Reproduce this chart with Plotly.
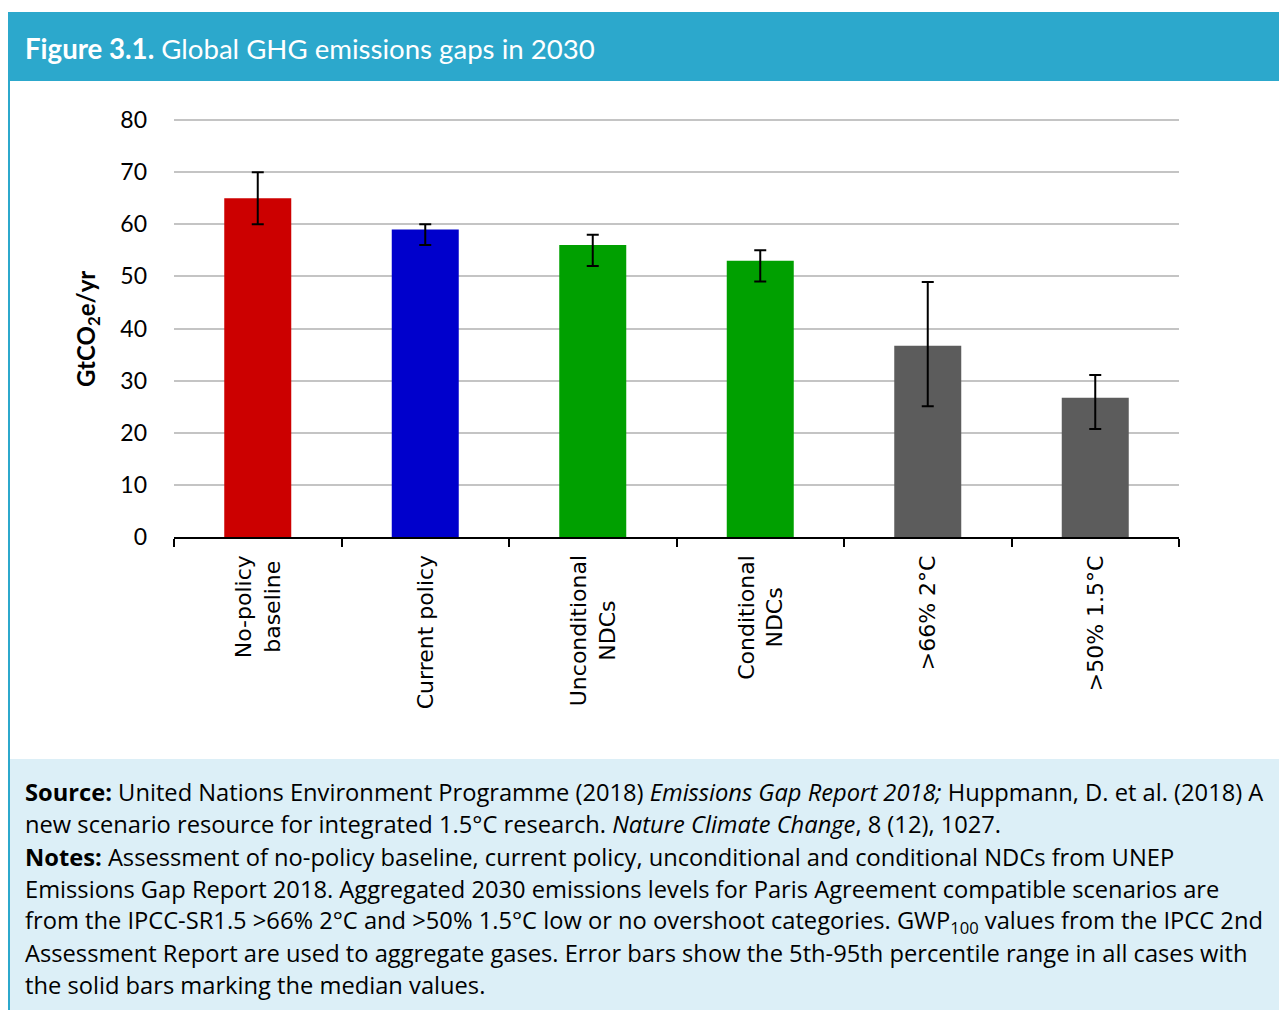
import plotly.graph_objects as go

# Chart data (GtCO2e/yr in 2030)
categories = [
    "No-policy<br>baseline",
    "Current policy",
    "Unconditional<br>NDCs",
    "Conditional<br>NDCs",
    ">66% 2°C",
    ">50% 1.5°C",
]
medians = [65, 59, 56, 53, 36.7, 26.7]
p95 = [70, 60, 58, 55, 48.9, 31.1]
p5 = [60, 56, 52, 49, 25.1, 20.7]
bar_colors = ["#CC0000", "#0000CC", "#00A000", "#00A000", "#5C5C5C", "#5C5C5C"]
y_ticks = [0, 10, 20, 30, 40, 50, 60, 70, 80]

title_bold = "Figure 3.1."
title_rest = "Global GHG emissions gaps in 2030"
note_lines = [
    "<b>Source:</b> United Nations Environment Programme (2018) <i>Emissions Gap Report 2018;</i> "
    "Huppmann, D. et al. (2018) A",
    "new scenario resource for integrated 1.5°C research. <i>Nature Climate Change</i>, 8 (12), 1027.",
    "<b>Notes:</b> Assessment of no-policy baseline, current policy, unconditional and conditional "
    "NDCs from UNEP",
    "Emissions Gap Report 2018. Aggregated 2030 emissions levels for Paris Agreement compatible "
    "scenarios are",
    "from the IPCC-SR1.5 >66% 2°C and >50% 1.5°C low or no overshoot categories. "
    "GWP<sub>100</sub> values from the IPCC 2nd",
    "Assessment Report are used to aggregate gases. Error bars show the 5th-95th percentile range "
    "in all cases with",
    "the solid bars marking the median values.",
]

W, H = 1287, 1010
OFF = 8  # page body margin in the browser
FONT = "Lato"
TEXT_FONT = "Open Sans"
HEADER_BLUE = "#2CA8CC"
NOTE_BG = "#DCEFF7"


def py(px):
    # screen pixel row -> paper y
    return 1 - (px - OFF) / H


def px_x(px):
    return (px - OFF) / W


err_plus = [hi - m for hi, m in zip(p95, medians)]
err_minus = [m - lo for lo, m in zip(p5, medians)]

fig = go.Figure()
fig.add_trace(
    go.Bar(
        x=categories,
        y=medians,
        marker=dict(color=bar_colors, line=dict(width=0)),
        width=0.4,
        error_y=dict(
            type="data",
            symmetric=False,
            array=err_plus,
            arrayminus=err_minus,
            color="black",
            thickness=2,
            width=6,
        ),
        showlegend=False,
    )
)

shapes = [
    # header band
    dict(type="rect", xref="paper", yref="paper", x0=px_x(8), x1=1.01, y0=py(81), y1=py(12),
         fillcolor=HEADER_BLUE, line=dict(width=0), layer="below"),
    # notes box
    dict(type="rect", xref="paper", yref="paper", x0=px_x(9), x1=1.01, y0=-0.01, y1=py(759),
         fillcolor=NOTE_BG, line=dict(width=0), layer="below"),
    # left border
    dict(type="line", xref="paper", yref="paper", x0=px_x(9), x1=px_x(9), y0=-0.01, y1=py(12),
         line=dict(color=HEADER_BLUE, width=2)),
]

annotations = [
    dict(text=f"<b>{title_bold}</b> {title_rest}", xref="paper", yref="paper",
         x=px_x(23), y=py(48), xanchor="left", yanchor="middle", showarrow=False,
         font=dict(family=FONT, size=27.6, color="white")),
    dict(text="<b>GtCO<sub>2</sub>e/yr</b>", xref="paper", yref="paper",
         x=px_x(87), y=py(329), xanchor="center", yanchor="middle", showarrow=False,
         textangle=-90, font=dict(family=FONT, size=24, color="black")),
]
# category labels, centred multi-line, rotated
for cat in categories:
    annotations.append(
        dict(text=cat, xref="x", yref="paper", x=cat, y=py(553),
             xanchor="center", yanchor="top", showarrow=False, textangle=-90,
             align="center", font=dict(family="DejaVu Sans", size=22, color="black"))
    )
line_y = [792, 824, 857, 889, 921, 953, 985]
for txt, yy in zip(note_lines, line_y):
    annotations.append(
        dict(text=txt, xref="paper", yref="paper", x=px_x(23), y=py(yy),
             xanchor="left", yanchor="middle", showarrow=False, align="left",
             font=dict(family=TEXT_FONT, size=23.7, color="black"))
    )

y_top = 82
unit_px = (537 - 120) / 80

fig.update_layout(
    width=W,
    height=H,
    margin=dict(l=0, r=0, t=0, b=0, autoexpand=False),
    paper_bgcolor="white",
    plot_bgcolor="white",
    bargap=0.6,
    shapes=shapes,
    annotations=annotations,
    xaxis=dict(
        domain=[px_x(174), px_x(1179)],
        automargin=False,
        showline=True,
        linecolor="black",
        linewidth=2,
        ticks="outside",
        tickson="boundaries",
        ticklen=8,
        tickwidth=1.5,
        tickcolor="black",
        showticklabels=False,
        showgrid=False,
        anchor="y",
    ),
    yaxis=dict(
        domain=[py(537), py(120 - (y_top - 80) * unit_px)],
        range=[0, y_top],
        automargin=False,
        tickvals=y_ticks,
        showline=False,
        ticks="",
        showgrid=True,
        gridcolor="#C4C4C4",
        gridwidth=1.5,
        zeroline=False,
        tickfont=dict(family=FONT, size=23, color="black"),
        ticklabelstandoff=26,
    ),
)

fig.write_html("out.html")
